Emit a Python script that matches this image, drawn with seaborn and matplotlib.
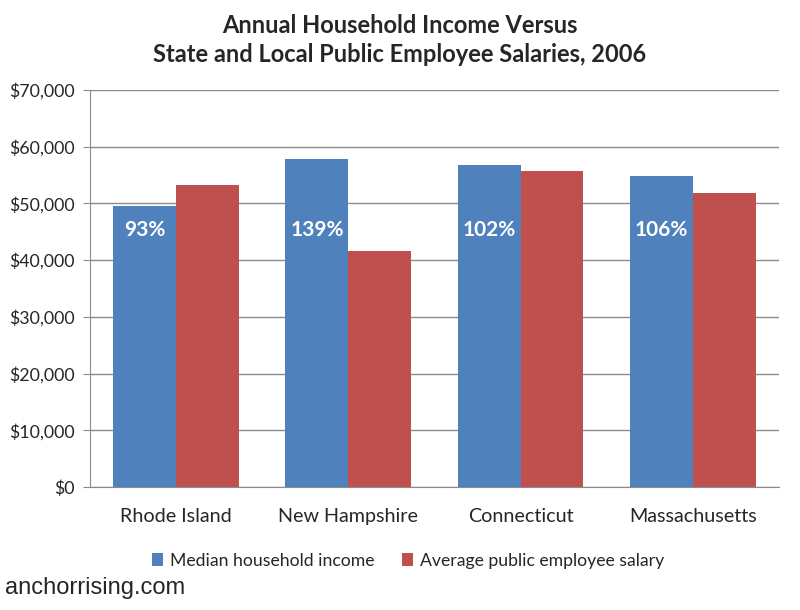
import numpy as np
import pandas as pd
import matplotlib
matplotlib.use("Agg")
import matplotlib.pyplot as plt
import seaborn as sns
from matplotlib.ticker import FuncFormatter

# data
states = ["Rhode Island", "New Hampshire", "Connecticut", "Massachusetts"]
median_income = [49560, 57850, 56790, 54900]
public_salary = [53260, 41620, 55680, 51800]
ratio_labels = ["93%", "139%", "102%", "106%"]
series_names = ["Median household income", "Average public employee salary"]
colors = ["#4F81BD", "#C0504D"]

df = pd.DataFrame({
    "state": states * 2,
    "value": median_income + public_salary,
    "series": [series_names[0]] * 4 + [series_names[1]] * 4,
})

sns.set_style("white")
plt.rcParams["font.family"] = ["Lato", "DejaVu Sans"]

fig = plt.figure(figsize=(8, 6.1), dpi=100)
ax = fig.add_axes([0.1125, 0.2016, 0.861, 0.6508])

sns.barplot(data=df, x="state", y="value", hue="series", palette=colors,
            width=0.73, saturation=1, linewidth=0, ax=ax, legend=True)

ax.set_ylim(0, 70000)
ax.set_yticks(np.arange(0, 70001, 10000))
ax.yaxis.set_major_formatter(FuncFormatter(lambda v, p: "${:,.0f}".format(v)))
ax.set_xlabel("")
ax.set_ylabel("")
ax.set_xlim(-0.5, 3.5)
ax.yaxis.grid(True, color="#8c8c8c", lw=1)
ax.set_axisbelow(True)
for s in ["top", "right"]:
    ax.spines[s].set_visible(False)
for s in ["left", "bottom"]:
    ax.spines[s].set_color("#8c8c8c")
ax.tick_params(axis="y", labelsize=12.8, length=5, color="#8c8c8c", left=True, pad=6)
ax.tick_params(axis="x", labelsize=14.2, length=0, pad=15)

# ratio labels inside the blue bars
blue_bars = ax.containers[0]
for bar, lab in zip(blue_bars, ratio_labels):
    ax.text(bar.get_x() + bar.get_width() / 2, 45400, lab, color="white",
            fontsize=15, fontweight="bold", ha="center", va="center")

ax.legend(loc="upper center", bbox_to_anchor=(0.462, -0.125), ncol=2, frameon=False,
          fontsize=12.7, handlelength=0.6, handleheight=0.7, handletextpad=0.4,
          columnspacing=1.6)

fig.text(0.5, 0.977, "Annual Household Income Versus\nState and Local Public Employee Salaries, 2006",
         ha="center", va="top", fontsize=17, fontweight="bold", linespacing=1.3)
fig.text(0.006, 0.018, "anchorrising.com", fontsize=17, family="Liberation Sans",
         ha="left", va="bottom")

fig.savefig("out.png", dpi=100)
